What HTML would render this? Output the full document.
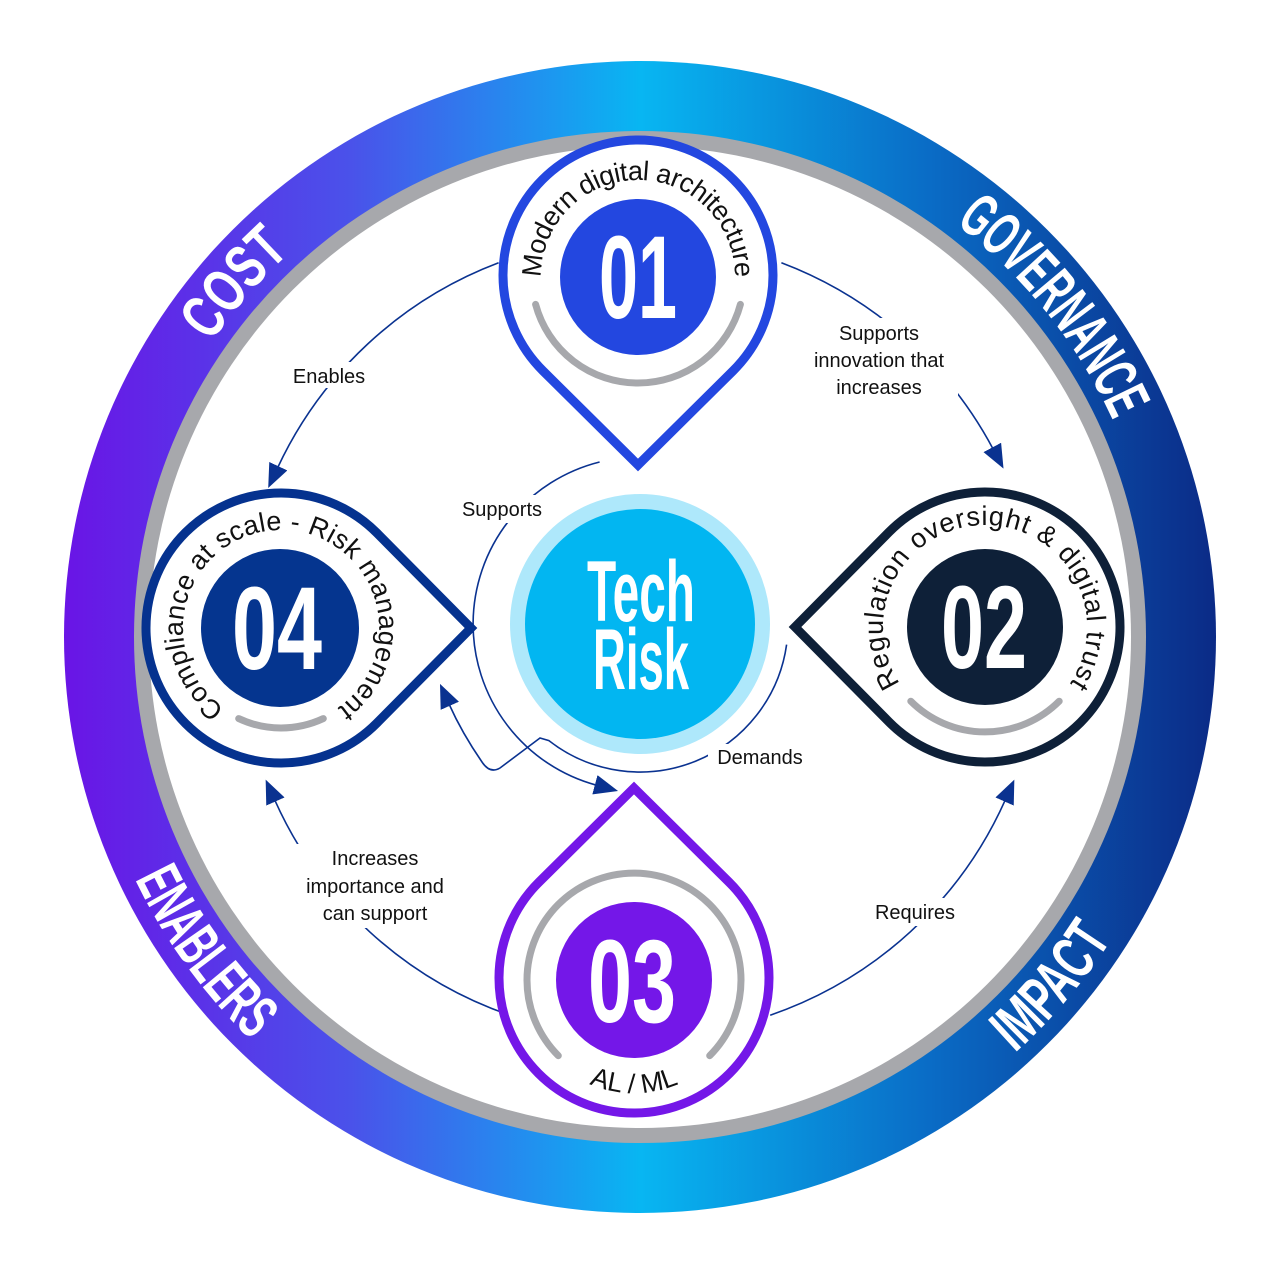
<!DOCTYPE html>
<html><head><meta charset="utf-8"><style>html,body{margin:0;padding:0;background:#fff}svg{display:block}</style></head>
<body>
<svg width="1280" height="1280" viewBox="0 0 1280 1280" xmlns="http://www.w3.org/2000/svg">
<defs>
<linearGradient id="rg" x1="62" y1="0" x2="1218" y2="0" gradientUnits="userSpaceOnUse">
<stop offset="0" stop-color="#6a14e6"/>
<stop offset="0.25" stop-color="#4a52ea"/>
<stop offset="0.5" stop-color="#08b6f2"/>
<stop offset="0.75" stop-color="#0a6cc6"/>
<stop offset="1" stop-color="#0b2a86"/>
</linearGradient>
<marker id="ah" viewBox="0 0 24 20" refX="2" refY="10" markerWidth="24" markerHeight="20" markerUnits="userSpaceOnUse" orient="auto">
<path d="M0 0 L24 10 L0 20 Z" fill="#0a3290"/>
</marker>
<path id="pin" d="M0 190 L94.9 96 A135 135 0 1 0 -94.9 96 Z"/>
<path id="topc" d="M640 1157 A520 520 0 1 1 640 117 A520 520 0 1 1 640 1157"/>
<path id="botc" d="M1200 637 A560 560 0 1 0 80 637 A560 560 0 1 0 1200 637"/>
<path id="t01" d="M638 374 A97 97 0 1 1 638 180 A97 97 0 1 1 638 374"/>
<path id="t02" d="M985 729 A102 102 0 1 1 985 525 A102 102 0 1 1 985 729"/>
<path id="t04" d="M281 726 A98 98 0 1 1 281 530 A98 98 0 1 1 281 726"/>
<path id="t03" d="M536.1 1036.5 A113 113 0 0 0 731.9 1036.5"/>
</defs>

<circle cx="640" cy="637" r="576" fill="url(#rg)"/>
<circle cx="640" cy="637" r="506" fill="#a7a8ac"/>
<circle cx="640" cy="637" r="491" fill="#fff"/>

<g font-family="'Liberation Sans Narrow','Liberation Sans',sans-serif" font-weight="bold" font-size="62" fill="#fff">
<text><textPath href="#topc" startOffset="1190" text-anchor="middle" textLength="120" lengthAdjust="spacingAndGlyphs">COST</textPath></text>
<text><textPath href="#topc" startOffset="2100" text-anchor="middle" textLength="255" lengthAdjust="spacingAndGlyphs">GOVERNANCE</textPath></text>
<text><textPath href="#botc" startOffset="2110" text-anchor="middle" textLength="200" lengthAdjust="spacingAndGlyphs">ENABLERS</textPath></text>
<text><textPath href="#botc" startOffset="3125" text-anchor="middle" textLength="150" lengthAdjust="spacingAndGlyphs">IMPACT</textPath></text>
</g>

<g fill="none" stroke="#0a3290" stroke-width="1.6">
<path d="M498.6 262.8 A400 400 0 0 0 277.5 468" marker-end="url(#ah)"/>
<path d="M781.4 262.8 A400 400 0 0 1 993.2 449.2" marker-end="url(#ah)"/>
<path d="M770.2 1015.2 A400 400 0 0 0 1005.4 799.7" marker-end="url(#ah)"/>
<path d="M509.8 1015.2 A400 400 0 0 1 274.6 799.7" marker-end="url(#ah)"/>
<path d="M599.6 462 A167 167 0 0 0 596.8 785.3" marker-end="url(#ah)"/>
<path d="M786.6 644.6 A148 148 0 0 1 548.9 740.6 L540 738 L500 768 Q490 774 482 762 Q462 733 449 704" marker-end="url(#ah)"/>
</g>

<g fill="#fff">
<rect x="284" y="362" width="90" height="26"/>
<rect x="800" y="318" width="158" height="84"/>
<rect x="866" y="898" width="98" height="28"/>
<rect x="292" y="844" width="166" height="84"/>
<rect x="452" y="495" width="100" height="28"/>
<rect x="708" y="744" width="104" height="28"/>
</g>
<g font-family="'Liberation Sans',sans-serif" font-size="20" fill="#111" text-anchor="middle">
<text x="329" y="383">Enables</text>
<text x="879" y="340">Supports</text>
<text x="879" y="367">innovation that</text>
<text x="879" y="394">increases</text>
<text x="915" y="919">Requires</text>
<text x="375" y="865">Increases</text>
<text x="375" y="893">importance and</text>
<text x="375" y="920">can support</text>
<text x="502" y="516">Supports</text>
<text x="760" y="764">Demands</text>
</g>

<circle cx="640" cy="624" r="130" fill="#aee8fb"/>
<circle cx="640" cy="624" r="115" fill="#02b6f1"/>
<g font-family="'Liberation Sans Narrow','Liberation Sans',sans-serif" font-weight="bold" font-size="86" fill="#fff" text-anchor="middle">
<text x="641" y="621" textLength="108" lengthAdjust="spacingAndGlyphs">Tech</text>
<text x="641" y="689" textLength="96" lengthAdjust="spacingAndGlyphs">Risk</text>
</g>

<g fill="#fff" stroke-width="9" stroke-linejoin="miter">
<use href="#pin" transform="translate(638,275)" stroke="#2347e0"/>
<use href="#pin" transform="translate(985,627) rotate(90)" stroke="#0e2038"/>
<use href="#pin" transform="translate(281,628) rotate(-90)" stroke="#05328f"/>
<use href="#pin" transform="translate(634,978) rotate(180)" stroke="#7417e8"/>
</g>
<circle cx="638" cy="277" r="78" fill="#2347e0"/>
<circle cx="985" cy="627" r="78" fill="#0e2038"/>
<circle cx="280" cy="628" r="79" fill="#05358f"/>
<circle cx="634" cy="980" r="78" fill="#7417e8"/>

<g fill="none" stroke="#a7a8ac" stroke-width="7" stroke-linecap="round">
<path d="M740.4 304.4 A106 106 0 0 1 535.6 304.4"/>
<path d="M1059.2 701.2 A105 105 0 0 1 910.8 701.2"/>
<path d="M323.3 718.6 A100 100 0 0 1 238.7 718.6"/>
<path d="M558.3 1055.7 A107 107 0 1 1 709.7 1055.7"/>
</g>

<g font-family="'Liberation Sans Narrow','Liberation Sans',sans-serif" font-weight="bold" font-size="118" fill="#fff" text-anchor="middle">
<text x="638" y="318" textLength="78" lengthAdjust="spacingAndGlyphs">01</text>
<text x="984" y="668" textLength="86" lengthAdjust="spacingAndGlyphs">02</text>
<text x="277" y="669" textLength="90" lengthAdjust="spacingAndGlyphs">04</text>
<text x="632" y="1022" textLength="88" lengthAdjust="spacingAndGlyphs">03</text>
</g>

<g font-family="'Liberation Sans',sans-serif" font-size="27" fill="#111">
<text><textPath href="#t01" startOffset="50%" text-anchor="middle" textLength="305" lengthAdjust="spacing">Modern digital architecture</textPath></text>
<text><textPath href="#t02" startOffset="50%" text-anchor="middle" textLength="440" lengthAdjust="spacing">Regulation oversight &amp; digital trust</textPath></text>
<text><textPath href="#t04" startOffset="50%" text-anchor="middle" textLength="495" lengthAdjust="spacing">Compliance at scale - Risk management</textPath></text>
<text><textPath href="#t03" startOffset="50%" text-anchor="middle">AL / ML</textPath></text>
</g>
</svg>
</body></html>
